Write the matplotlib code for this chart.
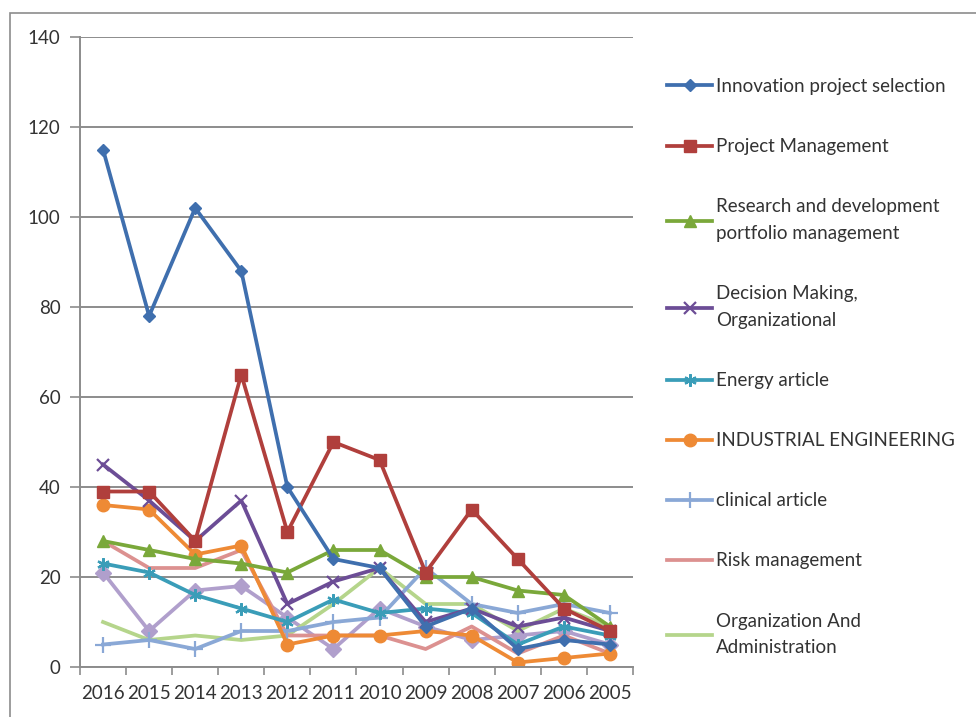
import numpy as np
import matplotlib
matplotlib.use("Agg")
import matplotlib.pyplot as plt
from matplotlib.patches import Rectangle

plt.rcParams['font.family'] = ['Lato', 'DejaVu Sans']

years = ['2016', '2015', '2014', '2013', '2012', '2011', '2010', '2009', '2008', '2007', '2006', '2005']

innovation = [115, 78, 102, 88, 40, 24, 22, 9, 13, 4, 6, 5]
project_mgmt = [39, 39, 28, 65, 30, 50, 46, 21, 35, 24, 13, 8]
rnd = [28, 26, 24, 23, 21, 26, 26, 20, 20, 17, 16, 9]
decision = [45, 37, 28, 37, 14, 19, 22, 10, 13, 9, 11, 8]
energy = [23, 21, 16, 13, 10, 15, 12, 13, 12, 5, 9, 7]
industrial = [36, 35, 25, 27, 5, 7, 7, 8, 7, 1, 2, 3]
clinical = [5, 6, 4, 8, 8, 10, 11, 22, 14, 12, 14, 12]
risk = [28, 22, 22, 26, 7, 7, 7, 4, 9, 3, 7, 3]
org_admin = [10, 6, 7, 6, 7, 14, 22, 14, 14, 8, 13, 9]
other = [21, 8, 17, 18, 11, 4, 13, 9, 6, 7, 8, 5]

labels = ['Innovation project selection', 'Project Management',
          'Research and development\nportfolio management',
          'Decision Making,\nOrganizational', 'Energy article',
          'INDUSTRIAL ENGINEERING', 'clinical article', 'Risk management',
          'Organization And\nAdministration', '_nolegend_']

series = [innovation, project_mgmt, rnd, decision, energy, industrial,
          clinical, risk, org_admin, other]
colors = ['#3f6fae', '#b03f3c', '#7aa83a', '#6c4d96', '#3a9db8', '#ee8a35',
          '#8aa8d6', '#dc9190', '#b5d58b', '#b09fcc']
markers = ['D', 's', '^', 'x', (6, 2, 0), 'o', '+', None, None, 'D']
msizes = [6, 8, 8, 9, 9, 9, 11, 0, 0, 8]

fig = plt.figure(figsize=(9.76, 7.17), dpi=100)
fig.patches.append(Rectangle((10 / 976, -0.1), 1.2, 1 - 13 / 717 + 0.1,
                             transform=fig.transFigure, fill=False,
                             edgecolor='#8c8c8c', linewidth=1.2))
ax = fig.add_axes([80 / 976, 50 / 717, 553 / 976, 630 / 717])

x = np.arange(len(years))
# draw in reverse so the first series sits on top
order = [9, 8, 7, 6, 5, 4, 3, 2, 1, 0]
lines = {}
for i in order:
    ln, = ax.plot(x, series[i], color=colors[i], linewidth=2.7,
                  marker=markers[i], markersize=msizes[i],
                  markeredgewidth=1.6 if markers[i] in ('x', '+', (6, 2, 0)) else 1,
                  label=labels[i])
    lines[i] = ln

ax.set_xlim(-0.5, 11.5)
ax.set_ylim(0, 140)
ax.set_yticks(range(0, 141, 20))
ax.set_xticks(x)
ax.set_xticklabels(years)
ax.set_xticks(np.arange(-0.5, 12, 1), minor=True)
ax.tick_params(axis='x', which='major', length=0, pad=13, labelsize=13.5, colors='#333333')
ax.tick_params(axis='x', which='minor', length=6, width=1.2, color='#8c8c8c')
ax.tick_params(axis='y', length=7, width=1.2, color='#8c8c8c', labelsize=13.5,
               labelcolor='#333333', pad=7)
ax.grid(axis='y', color='#8c8c8c', linewidth=1.4)
ax.set_axisbelow(True)
for s in ['top', 'right']:
    ax.spines[s].set_visible(False)
for s in ['left', 'bottom']:
    ax.spines[s].set_color('#8c8c8c')
    ax.spines[s].set_linewidth(1.4)

handles = [lines[i] for i in range(9)]
leg = fig.legend(handles, labels[:9], loc='upper left',
                 bbox_to_anchor=(667 / 976, 1 - 78 / 717), frameon=False,
                 fontsize=13.5, labelspacing=2.3, handlelength=2.4,
                 handletextpad=0.2, borderpad=0, borderaxespad=0,
                 labelcolor='#333333')
for t in leg.get_texts():
    t.set_linespacing(1.7)

fig.savefig('out.png', dpi=100)
